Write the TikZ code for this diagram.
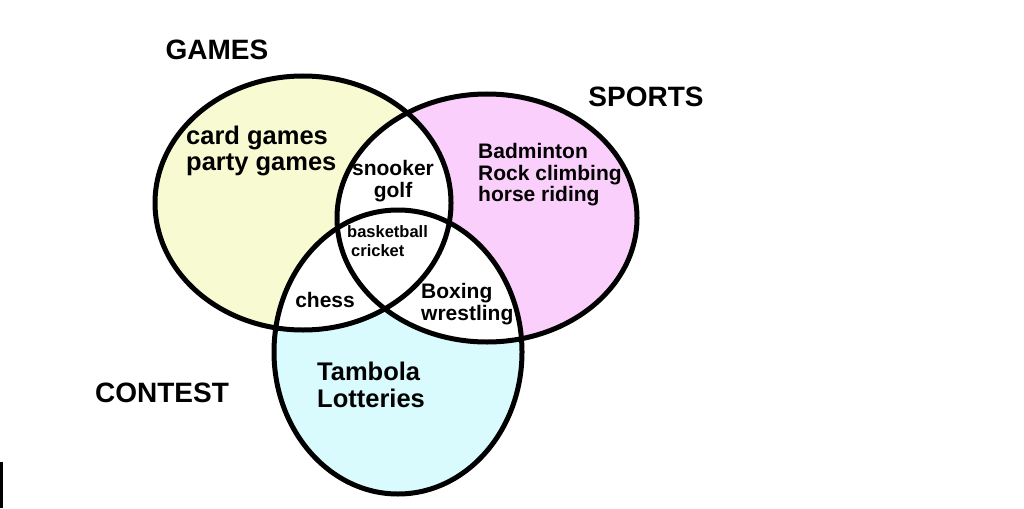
\documentclass[tikz,border=0pt]{standalone}
\usepackage{fontspec}
\setmainfont{Liberation Sans}
\definecolor{gamesyellow}{HTML}{F8FAD2}
\definecolor{sportspink}{HTML}{FBCFFB}
\definecolor{contestcyan}{HTML}{D9FBFD}
\tikzset{
  setline/.style={line width=5pt},
  setname/.style={font=\fontsize{28}{30}\selectfont\bfseries, inner sep=0pt},
  bigitem/.style={font=\fontsize{25.5}{26.5}\selectfont\bfseries, align=left, inner sep=0pt},
  item/.style={font=\fontsize{21}{21.5}\selectfont\bfseries, align=left, inner sep=0pt},
  smallitem/.style={font=\fontsize{16.5}{19}\selectfont\bfseries, align=left, inner sep=0pt}
}
\def\gamesset{(303,203) ellipse [x radius=148, y radius=127]}
\def\sportsset{(487,218) ellipse [x radius=150, y radius=124]}
\def\contestset{(398,352) ellipse [x radius=124, y radius=142]}
\begin{document}
\begin{tikzpicture}[x=1pt, y=-1pt]
            \fill[white] (0,0) rectangle (1024,508);
            \useasboundingbox (0,0) rectangle (1024,508);

            \fill[gamesyellow] \gamesset;
            \fill[sportspink] \sportsset;
            \fill[contestcyan] \contestset;
            \begin{scope}
              \clip \gamesset;
              \fill[white] \sportsset;
              \fill[white] \contestset;
            \end{scope}
            \begin{scope}
              \clip \sportsset;
              \fill[white] \contestset;
            \end{scope}

            \draw[setline] \gamesset;
            \draw[setline] \sportsset;
            \draw[setline] \contestset;

            \node[setname] (games) at (217, 50) { GAMES };
            \node[setname] (sports) at (646, 97) { SPORTS };
            \node[setname] (contest) at (162, 393) { CONTEST };

            \node[bigitem, anchor=west] (gamesonly) at (186, 151) { card games\\party games };
            \node[item, anchor=west] (sportsonly) at (478, 175) { Badminton\\Rock climbing\\horse riding };
            \node[bigitem, anchor=west] (contestonly) at (317, 385) { Tambola\\Lotteries };

            \node[item, align=center] (gamessports) at (393, 181) { snooker\\golf };
            \node[item] (gamescontest) at (328, 300) { chess };
            \node[item, anchor=west] (sportscontest) at (421, 304) { Boxing\\wrestling };
            \node[smallitem, anchor=west] (allthree) at (347, 241) { basketball\\\hspace{4pt}cricket };

            \fill (0, 462) rectangle (2.5, 508);
\end{tikzpicture}
\end{document}
